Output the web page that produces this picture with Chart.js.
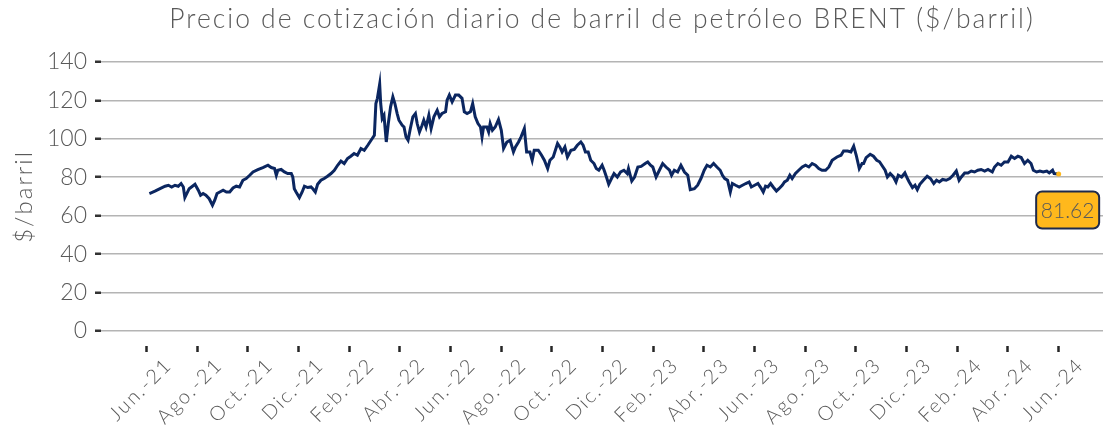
<!DOCTYPE html>
<html>
<head>
<meta charset="utf-8">
<script src="https://cdn.jsdelivr.net/npm/chart.js@4"></script>
<style>
  body { margin: 0; background: #fff; }
  #wrap { width: 1107px; height: 433px; }
</style>
</head>
<body>
<div id="wrap"><canvas id="grafico"></canvas></div>
<script>
// meses desde el 1 de junio de 2021
var meses = [
  0.11, 0.33, 0.53, 0.73, 0.86, 0.99, 1.12, 1.25, 1.36, 1.45, 1.51, 1.60, 1.68, 1.81, 1.91,
  2.04, 2.13, 2.23, 2.34, 2.47, 2.60, 2.69, 2.78, 2.89, 3.02, 3.15, 3.28, 3.41, 3.54, 3.67,
  3.80, 3.93, 4.07, 4.20, 4.39, 4.59, 4.79, 4.92, 5.05, 5.12, 5.18, 5.31, 5.44, 5.57, 5.71,
  5.77, 5.83, 5.90, 6.03, 6.14, 6.23, 6.36, 6.49, 6.56, 6.66, 6.75, 6.88, 7.01, 7.14, 7.28,
  7.41, 7.54, 7.67, 7.80, 7.93, 8.06, 8.19, 8.32, 8.46, 8.59, 8.73, 8.86, 8.99, 9.05, 9.11,
  9.20, 9.24, 9.30, 9.37, 9.46, 9.54, 9.63, 9.72, 9.80, 9.89, 9.96, 10.09, 10.16, 10.24, 10.32,
  10.41, 10.51, 10.61, 10.68, 10.77, 10.87, 10.94, 11.03, 11.14, 11.23, 11.34, 11.47, 11.56, 11.66, 11.80,
  11.86, 11.95, 12.06, 12.19, 12.32, 12.45, 12.54, 12.65, 12.78, 12.87, 12.97, 13.08, 13.18, 13.24, 13.30,
  13.43, 13.50, 13.56, 13.65, 13.76, 13.89, 14.00, 14.09, 14.22, 14.35, 14.48, 14.56, 14.68, 14.78, 14.91,
  14.96, 15.00, 15.13, 15.22, 15.30, 15.46, 15.59, 15.70, 15.83, 15.92, 16.05, 16.22, 16.31, 16.40, 16.51,
  16.61, 16.75, 16.88, 17.00, 17.14, 17.23, 17.32, 17.43, 17.53, 17.66, 17.75, 17.85, 17.98, 18.06, 18.15,
  18.24, 18.35, 18.45, 18.58, 18.71, 18.84, 18.97, 19.02, 19.15, 19.26, 19.39, 19.52, 19.68, 19.78, 19.89,
  19.98, 20.11, 20.24, 20.37, 20.50, 20.64, 20.72, 20.83, 20.96, 21.09, 21.23, 21.36, 21.46, 21.62, 21.75,
  21.88, 22.01, 22.12, 22.25, 22.38, 22.51, 22.64, 22.73, 22.82, 22.93, 23.04, 23.12, 23.25, 23.39, 23.52,
  23.65, 23.78, 23.87, 24.00, 24.13, 24.24, 24.34, 24.43, 24.52, 24.63, 24.73, 24.86, 24.96, 25.09, 25.18,
  25.29, 25.39, 25.48, 25.61, 25.74, 25.88, 26.01, 26.14, 26.27, 26.40, 26.53, 26.66, 26.80, 26.93, 27.06,
  27.25, 27.41, 27.51, 27.67, 27.80, 27.91, 28.01, 28.13, 28.24, 28.30, 28.40, 28.56, 28.69, 28.82, 28.93,
  29.02, 29.15, 29.24, 29.35, 29.48, 29.58, 29.67, 29.80, 29.93, 30.03, 30.10, 30.23, 30.33, 30.42, 30.52,
  30.66, 30.81, 30.94, 31.07, 31.18, 31.29, 31.42, 31.56, 31.70, 31.83, 31.96, 32.07, 32.16, 32.29, 32.42,
  32.55, 32.68, 32.81, 32.94, 33.08, 33.21, 33.38, 33.47, 33.60, 33.73, 33.86, 34.00, 34.13, 34.26, 34.39,
  34.52, 34.65, 34.78, 34.91, 35.00, 35.13, 35.26, 35.39, 35.53, 35.63, 35.76, 35.82, 36.00
];

var precios = [
  71.5, 72.7, 74.0, 75.3, 75.8, 74.9, 75.8, 75.3, 76.7, 74.9, 69.4, 71.8, 74.0, 75.3, 76.3,
  73.2, 70.6, 71.5, 70.6, 68.8, 65.4, 68.0, 71.5, 72.3, 73.2, 72.3, 72.3, 74.4, 75.3, 74.9,
  78.4, 79.3, 81.0, 82.7, 83.9, 85.0, 86.2, 85.0, 84.5, 81.0, 83.6, 84.0, 82.7, 81.9, 81.9,
  80.1, 74.0, 72.3, 69.4, 72.3, 75.3, 74.6, 74.9, 74.0, 72.3, 76.3, 78.4, 79.3, 80.5, 81.9,
  83.6, 86.2, 88.4, 87.1, 89.7, 90.9, 92.3, 91.4, 94.9, 94.0, 96.6, 99.2, 101.8, 118.3, 121.0,
  128.4, 118.3, 110.5, 112.2, 98.3, 107.9, 116.6, 121.8, 118.3, 113.1, 109.6, 107.0, 106.1, 100.9, 99.2,
  105.3, 111.4, 113.1, 107.9, 103.5, 106.9, 109.6, 106.1, 112.2, 105.3, 111.4, 114.8, 111.4, 113.1, 114.0,
  120.0, 122.7, 119.2, 122.7, 122.7, 121.0, 114.0, 113.1, 114.0, 118.3, 111.4, 107.9, 106.1, 100.9, 106.1,
  106.1, 103.5, 107.9, 104.4, 106.1, 110.0, 104.4, 94.9, 98.3, 99.2, 93.1, 95.7, 98.3, 101.0, 105.3,
  98.3, 93.1, 93.1, 88.8, 94.0, 94.0, 91.4, 88.8, 84.5, 88.8, 90.5, 97.5, 95.7, 93.1, 95.7,
  90.5, 94.0, 94.4, 96.6, 98.3, 96.6, 93.1, 93.1, 88.8, 87.1, 84.5, 83.6, 86.2, 83.6, 80.1,
  76.3, 79.3, 81.9, 80.1, 82.7, 83.6, 81.9, 84.5, 78.0, 80.1, 85.3, 85.6, 87.1, 87.9, 86.2,
  85.3, 80.1, 83.6, 87.1, 85.3, 83.6, 81.0, 83.6, 82.7, 86.2, 82.7, 81.0, 73.5, 74.0, 75.8,
  79.3, 83.6, 86.2, 85.3, 87.1, 85.3, 83.6, 81.0, 79.3, 78.4, 72.3, 76.7, 75.8, 74.9, 75.8,
  76.7, 77.5, 74.9, 75.8, 76.7, 74.6, 72.3, 75.3, 74.9, 76.7, 74.9, 72.8, 74.0, 75.8, 77.5,
  78.4, 81.0, 79.3, 81.9, 83.6, 85.3, 86.2, 85.3, 87.1, 86.2, 84.5, 83.6, 83.6, 85.3, 88.8,
  90.5, 91.4, 93.6, 93.6, 93.1, 96.1, 91.4, 84.5, 87.1, 87.1, 90.2, 91.9, 90.9, 88.8, 88.0,
  86.2, 83.6, 80.1, 81.9, 80.1, 77.5, 81.0, 80.1, 82.2, 79.3, 77.5, 74.6, 75.8, 73.5, 76.3,
  78.4, 80.5, 79.3, 76.7, 78.4, 77.5, 78.8, 78.4, 79.3, 81.0, 83.2, 78.4, 80.1, 82.2, 82.2,
  83.2, 82.7, 83.6, 84.0, 83.2, 84.0, 82.7, 85.3, 87.1, 86.2, 87.9, 87.9, 90.9, 89.7, 90.9,
  90.2, 87.1, 88.8, 87.1, 83.6, 82.7, 83.2, 82.7, 83.2, 82.2, 83.6, 81.9, 81.62
];

var etiquetas = [
  "Jun.-21", "Ago.-21", "Oct.-21", "Dic.-21", "Feb.-22", "Abr.-22", "Jun.-22",
  "Ago.-22", "Oct.-22", "Dic.-22", "Feb.-23", "Abr.-23", "Jun.-23", "Ago.-23",
  "Oct.-23", "Dic.-23", "Feb.-24", "Abr.-24", "Jun.-24"
];

var gris = "#595959";
var fuente = "Lato";

var puntos = meses.map(function (m, i) {
  return { x: m, y: precios[i] };
});
var ultimo = puntos.length - 1;

// textos mas espaciados (titulos y fechas), las cifras del eje y sin espaciado
var espaciado = {
  id: "espaciado",
  beforeDraw: function (chart) {
    chart.ctx.letterSpacing = "2px";
  },
  beforeDatasetsDraw: function (chart) {
    chart.ctx.letterSpacing = "0px";
  },
};

// recuadro con el último valor
var etiquetaFinal = {
  id: "etiquetaFinal",
  afterDatasetsDraw: function (chart) {
    var pt = chart.getDatasetMeta(0).data[ultimo];
    var ctx = chart.ctx;
    var w = 63, h = 37;
    var cx = pt.x + 9, cy = pt.y + 36;
    ctx.save();
    ctx.beginPath();
    ctx.roundRect(cx - w / 2, cy - h / 2, w, h, 6);
    ctx.fillStyle = "#FFB81C";
    ctx.fill();
    ctx.lineWidth = 2;
    ctx.strokeStyle = "#1F2A4A";
    ctx.stroke();
    ctx.fillStyle = gris;
    ctx.font = "300 21px " + fuente;
    ctx.textAlign = "center";
    ctx.textBaseline = "middle";
    ctx.fillText(precios[ultimo].toFixed(2), cx, cy + 1);
    ctx.restore();
  },
};

var ctx = document.getElementById("grafico").getContext("2d");
var grafico = new Chart(ctx, {
  type: "line",
  data: {
    datasets: [
      {
        data: puntos,
        borderColor: "#0B2660",
        borderWidth: 3,
        tension: 0,
        pointRadius: function (c) {
          return c.dataIndex === ultimo ? 2.5 : 0;
        },
        pointBackgroundColor: "#FFB81C",
        pointBorderColor: "#FFB81C",
        pointBorderWidth: 0,
      },
    ],
  },
  options: {
    responsive: true,
    maintainAspectRatio: false,
    animation: false,
    layout: { padding: 0 },
    plugins: {
      legend: { display: false },
      tooltip: { enabled: false },
      title: {
        display: true,
        fullSize: false,
        text: "Precio de cotización diario de barril de petróleo BRENT ($/barril)",
        color: gris,
        font: { family: fuente, size: 26.5, weight: "300" },
        padding: { top: 4, bottom: 26 },
      },
    },
    scales: {
      x: {
        type: "linear",
        min: -1.8,
        max: 37.75,
        border: { display: false },
        grid: {
          drawOnChartArea: false,
          drawTicks: true,
          tickLength: 21,
          tickWidth: 2.5,
          tickColor: "#262626",
          tickBorderDash: [0, 15, 6, 100],
        },
        afterBuildTicks: function (scale) {
          scale.ticks = etiquetas.map(function (e, i) {
            return { value: i * 2 };
          });
        },
        afterFit: function (scale) {
          scale.height = 102;
        },
        ticks: {
          autoSkip: false,
          maxRotation: 45,
          minRotation: 45,
          labelOffset: 22,
          padding: 1,
          color: gris,
          font: { family: fuente, size: 20, weight: "300" },
          callback: function (v) {
            return etiquetas[Math.round(v / 2)];
          },
        },
      },
      y: {
        min: 0,
        max: 140,
        border: { display: false },
        grid: {
          color: "#B4B4B4",
          lineWidth: 1.5,
          tickLength: 6,
          tickWidth: 2.5,
          tickColor: "#333333",
        },
        afterFit: function (scale) {
          scale.width = 101;
        },
        ticks: {
          z: 1,
          stepSize: 20,
          padding: 8,
          color: gris,
          font: { family: fuente, size: 23, weight: "300" },
        },
        title: {
          display: true,
          text: "$/barril",
          color: gris,
          font: { family: fuente, size: 24, weight: "300" },
          padding: { top: 10, bottom: 0 },
        },
      },
    },
  },
  plugins: [espaciado, etiquetaFinal],
});
</script>
</body>
</html>
